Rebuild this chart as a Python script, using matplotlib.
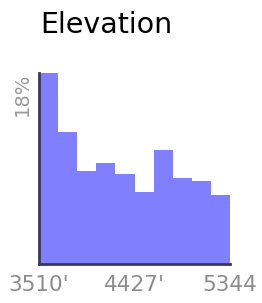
import numpy as np
import matplotlib.pyplot as plt

# elevation histogram (percent of area per band)
bin_edges = np.linspace(3510, 5344, 11)
percents = [18.0, 12.4, 8.8, 9.5, 8.5, 6.8, 10.7, 8.1, 7.8, 6.5]
tick_pos = [3510, 4427, 5344]
tick_labels = ["3510'", "4427'", "5344"]

fig = plt.figure(figsize=(2.62, 3.03), dpi=100)
ax = fig.add_axes([0.149, 0.129, 0.729, 0.630])

ax.bar(bin_edges[:-1], percents, width=np.diff(bin_edges), align='edge',
       color='#8080ff', edgecolor='none')

ax.set_xlim(3510, 5344)
ax.set_ylim(0, 18)

for s in ['top', 'right']:
    ax.spines[s].set_visible(False)
for s in ['left', 'bottom']:
    ax.spines[s].set_color('#3a3a55')
    ax.spines[s].set_linewidth(2)

ax.set_xticks(tick_pos)
ax.set_xticklabels(tick_labels, color='#8c8c8c', fontsize=15.5)
ax.tick_params(axis='x', length=0, pad=8)
ax.set_yticks([])

ax.text(-0.04, 1.0, '18%', transform=ax.transAxes, rotation=90,
        ha='right', va='top', color='#999999', fontsize=14)

fig.text(0.153, 1 - 33 / 303, 'Elevation', fontsize=20.5, color='black',
         ha='left', va='baseline')

fig.savefig('out.png', dpi=100)
